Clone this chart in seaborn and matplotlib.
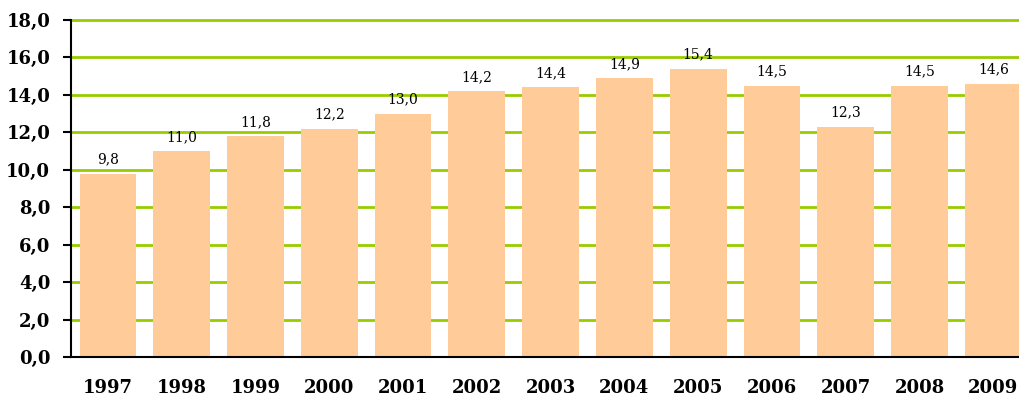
import numpy as np
import pandas as pd
import matplotlib
matplotlib.use("Agg")
import matplotlib.pyplot as plt
import seaborn as sns

years = ["1997", "1998", "1999", "2000", "2001", "2002", "2003",
         "2004", "2005", "2006", "2007", "2008", "2009"]
values = [9.8, 11.0, 11.8, 12.2, 13.0, 14.2, 14.4, 14.9, 15.4, 14.5, 12.3, 14.5, 14.6]
y_ticks = [0, 2, 4, 6, 8, 10, 12, 14, 16, 18]

sns.set_style("white")
plt.rcParams['font.family'] = ['DejaVu Serif']
plt.rcParams['text.color'] = 'black'
plt.rcParams['xtick.color'] = 'black'
plt.rcParams['ytick.color'] = 'black'

df = pd.DataFrame({"year": years, "value": values})

fig = plt.figure(figsize=(10.19, 4.0), dpi=100)
ax = fig.add_axes([0.0697, 0.1075, 0.9413, 0.8425])

sns.barplot(data=df, x="year", y="value", color="#FFCC99", saturation=1,
            width=0.77, linewidth=0, ax=ax, zorder=3)

ax.set_ylim(0, 18)
ax.set_xlim(-0.5, len(years) - 0.5)
ax.set_yticks(y_ticks)
ax.set_yticklabels([f"{v:.1f}".replace(".", ",") for v in y_ticks],
                   fontsize=13, fontweight="bold")
ax.set_xticks(range(len(years)))
ax.set_xticklabels(years, fontsize=13, fontweight="bold")
ax.set_xticks(np.arange(-0.5, len(years), 1), minor=True)
ax.tick_params(axis="x", which="major", length=0, pad=16)
ax.tick_params(axis="x", which="minor", length=5, width=1.5, direction="out", color="black")
ax.tick_params(axis="y", length=6, width=1.5, direction="out", color="black", left=True, pad=9)
ax.set_xlabel("")
ax.set_ylabel("")

ax.yaxis.grid(True, color="#99CC00", linewidth=2, zorder=0)
for gl in ax.get_ygridlines():
    gl.set_clip_on(False)
ax.get_ygridlines()[0].set_visible(False)
ax.set_axisbelow(True)
for s in ["top", "right"]:
    ax.spines[s].set_visible(False)
for s in ["left", "bottom"]:
    ax.spines[s].set_color("black")
    ax.spines[s].set_linewidth(1.5)
    ax.spines[s].set_zorder(4)

for i, v in enumerate(values):
    ax.annotate(f"{v:.1f}".replace(".", ","), (i, v), xytext=(0, 5),
                textcoords="offset points", ha="center", va="bottom",
                fontsize=10, color="black")

fig.savefig("out.png", dpi=100)
